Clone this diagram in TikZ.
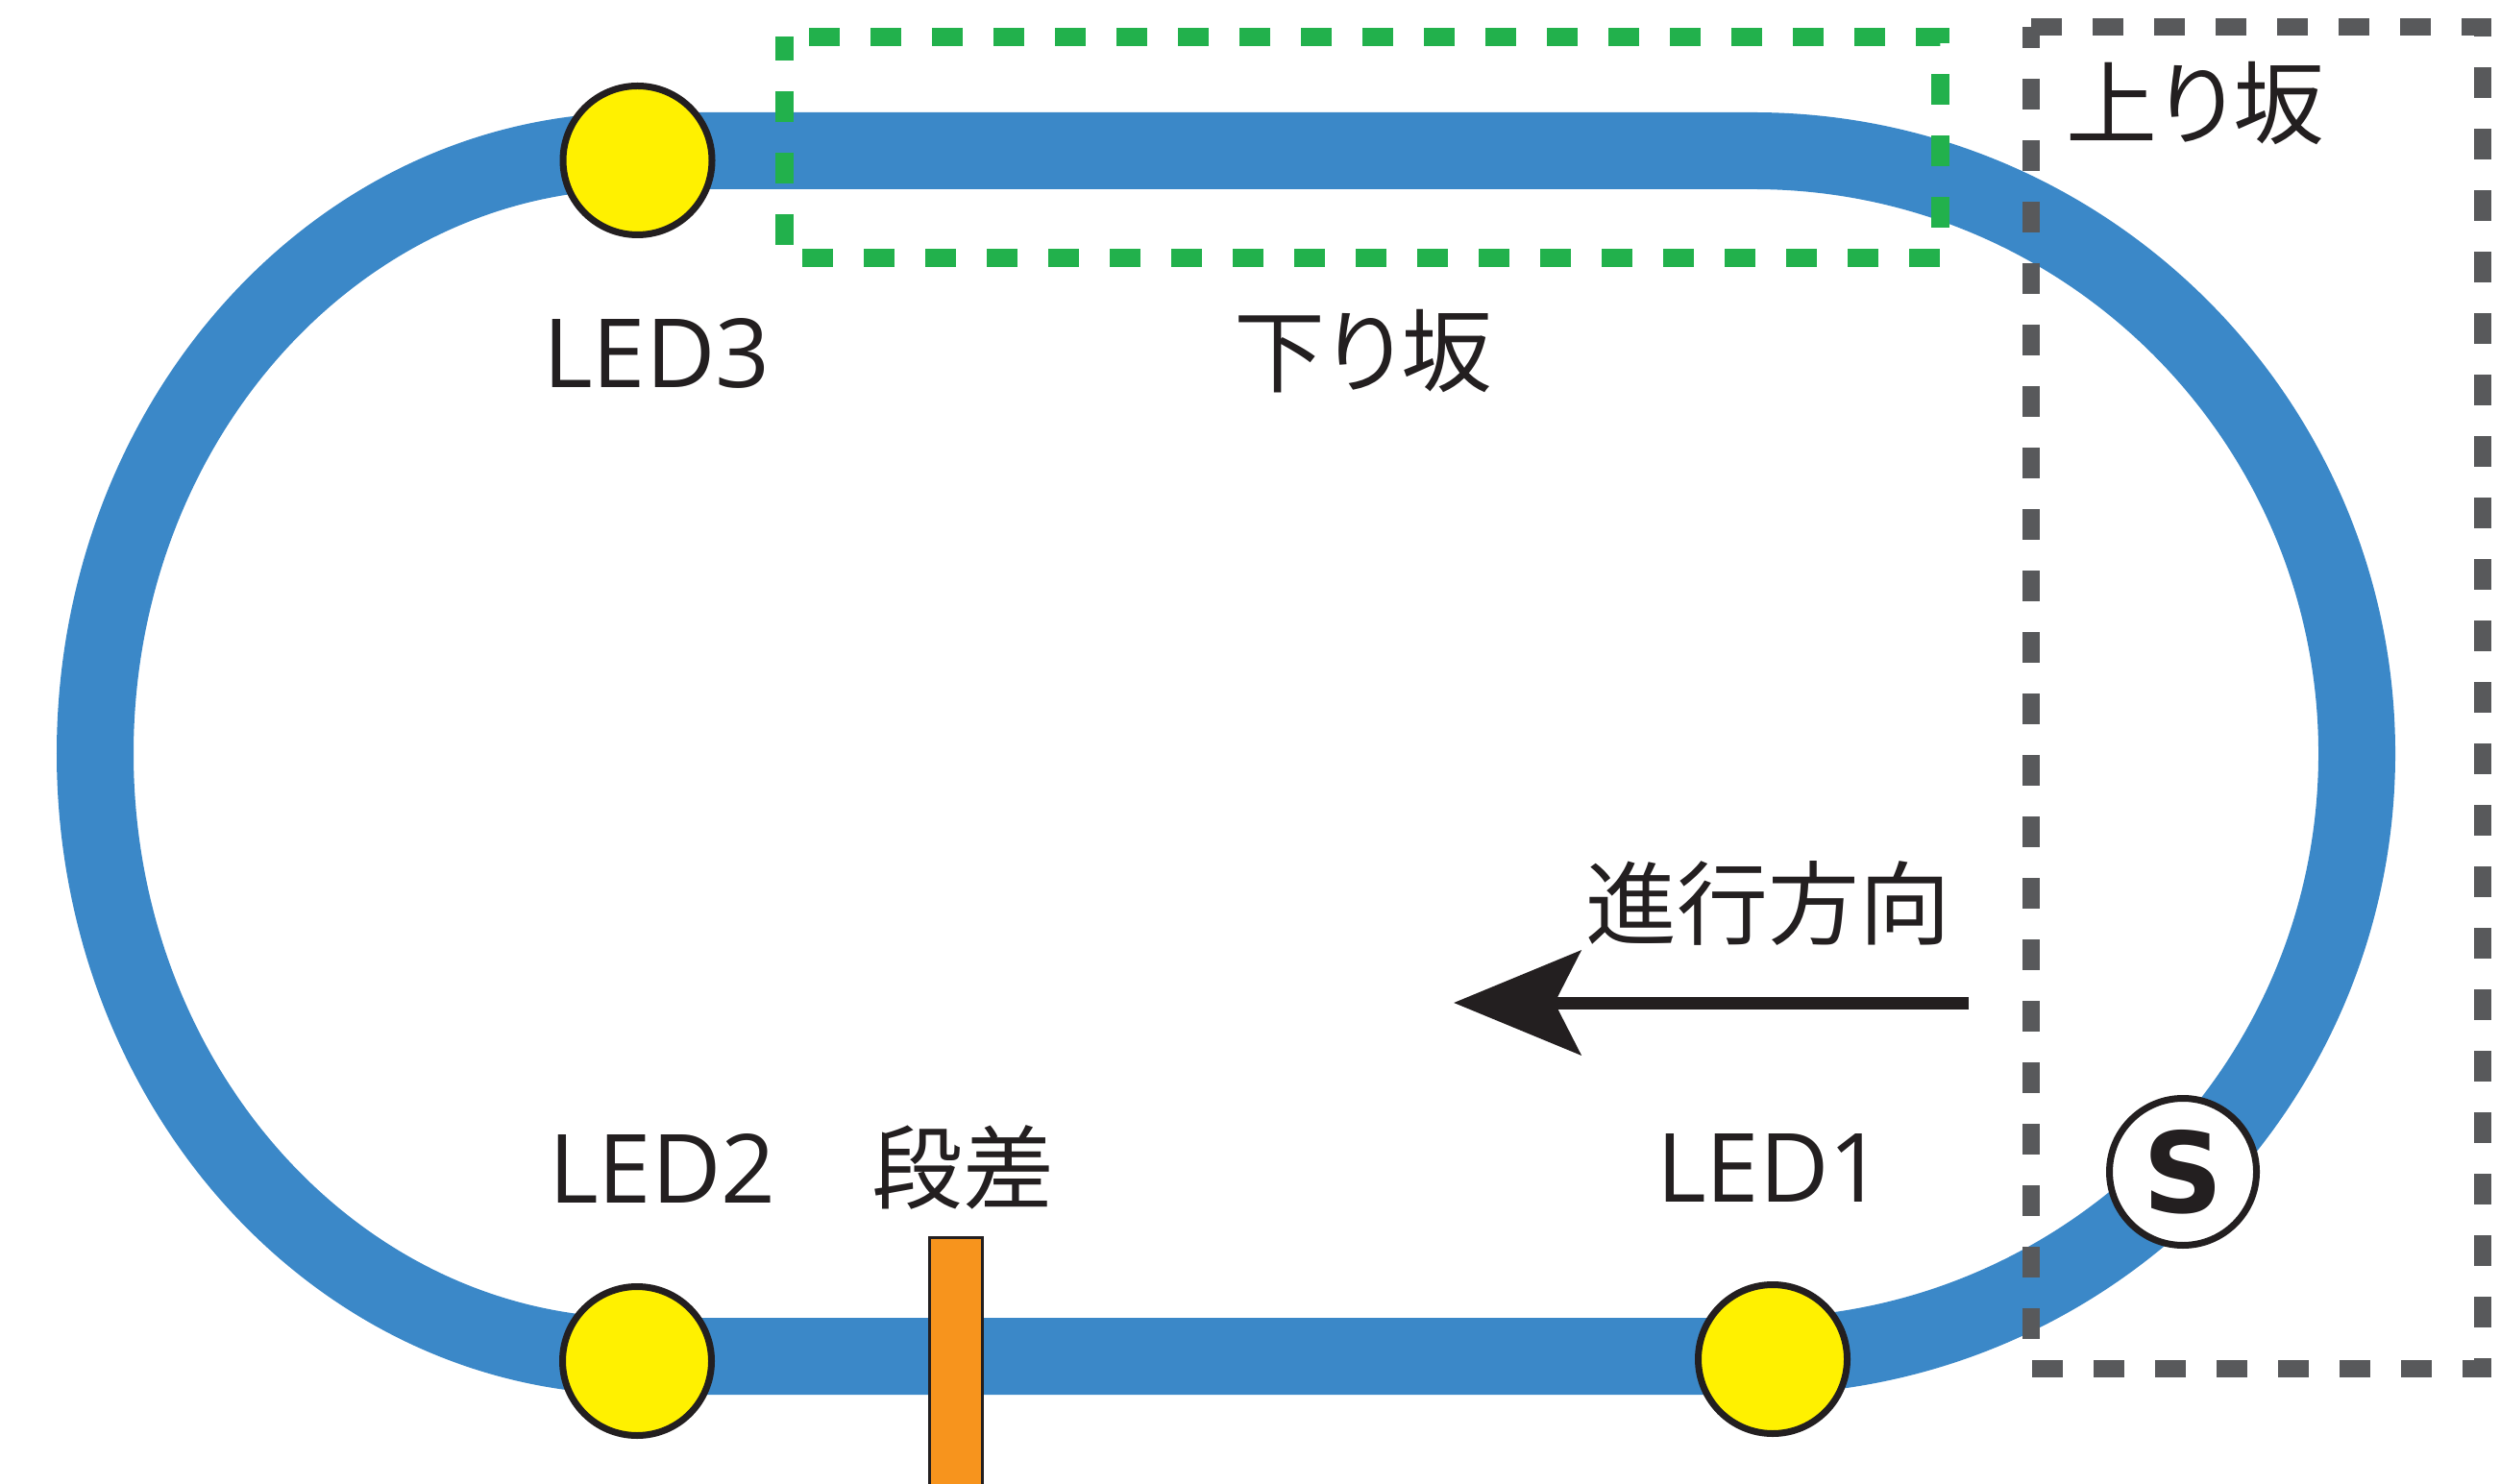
\documentclass[tikz,border=0pt]{standalone}
\usepackage{fontspec}
\setmainfont{Open Sans}
\newfontfamily\jpfont{Noto Sans CJK JP}
\newfontfamily\jppfont[RawFeature=+palt]{Noto Sans CJK JP}
\newfontfamily\startfont{DejaVu Sans}
\usepackage{tikz}
\usetikzlibrary{arrows.meta}
\definecolor{trackblue}{HTML}{3B88C8}
\definecolor{ledyellow}{HTML}{FFF100}
\definecolor{inkblack}{HTML}{231F20}
\definecolor{downgreen}{HTML}{22B14C}
\definecolor{upgray}{HTML}{58595B}
\definecolor{steporange}{HTML}{F7941D}

\tikzset{
  track/.style={draw=trackblue, line width=0.8cm},
  led/.style={circle, fill=ledyellow, draw=inkblack, line width=0.07cm, minimum size=1.55cm, inner sep=0pt},
  startmark/.style={circle, fill=white, draw=inkblack, line width=0.07cm, minimum size=1.53cm, inner sep=0pt,
    font=\fontsize{33}{40}\selectfont\startfont\bfseries, text=inkblack},
  lbl/.style={inner sep=0pt, text=inkblack, font=\fontsize{28.3}{34}\selectfont},
  jplbl/.style={inner sep=0pt, text=inkblack, font=\fontsize{27}{32}\selectfont\jpfont},
  slopegreen/.style={draw=downgreen, line width=0.19cm, dash pattern=on 0.32cm off 0.32cm, dash phase=0.075cm},
  slopegray/.style={draw=upgray, line width=0.18cm, dash pattern=on 0.32cm off 0.32cm, dash phase=0.1cm},
  stepbar/.style={fill=steporange, draw=inkblack, line width=0.03cm},
  dirarrow/.style={draw=inkblack, line width=0.13cm,
    -{Stealth[length=1.32cm, width=1.08cm, inset=0.27cm, fill=inkblack]}}
}

\begin{document}
\begin{tikzpicture}[x=1cm, y=1cm]
\useasboundingbox (0,0) rectangle (26.02,15.44);
% track
\draw[track] (6.635,13.87) -- (18.25,13.87)
  arc[start angle=90, end angle=-90, x radius=6.28, y radius=6.275]
  -- (6.635,1.32)
  arc[start angle=270, end angle=90, x radius=5.645, y radius=6.275] -- cycle;
% step
\draw[stepbar] (9.67,-0.2) rectangle (10.22,2.56);
% slopes
\draw[slopegreen] (8.165,15.055) -- (8.165,12.755) -- (20.195,12.755) -- (20.195,15.055) -- cycle;
\draw[slopegray] (21.14,15.16) -- (21.14,1.19) -- (25.84,1.19) -- (25.84,15.16) -- cycle;
% LEDs and start
\node[led] (led3) at (6.635,13.77) {};
\node[led] (led2) at (6.63,1.27) {};
\node[led] (led1) at (18.45,1.29) {};
\node[startmark] (start) at (22.72,3.24) {S};
% labels
\node[lbl] (led3txt) at (6.835,11.76) {LED3};
\node[lbl] (led2txt) at (6.895,3.275) {LED2};
\node[lbl] (led1txt) at (18.425,3.28) {LED1};
\node[jplbl, font=\fontsize{27}{32}\selectfont\jppfont] (downtxt) at (14.185,11.785) {下り坂};
\node[jplbl, font=\fontsize{27}{32}\selectfont\jppfont] (uptxt) at (22.85,14.365) {上り坂};
\node[jplbl] (dirtxt) at (18.405,6.04) {進行方向};
\node[jplbl] (steptxt) at (10.025,3.29) {段差};
% direction
\coordinate (dirstart) at (20.49,5.00);
\coordinate (dirend) at (15.13,5.00);
\draw[dirarrow] (dirstart) -- (dirend);
\end{tikzpicture}
\end{document}
